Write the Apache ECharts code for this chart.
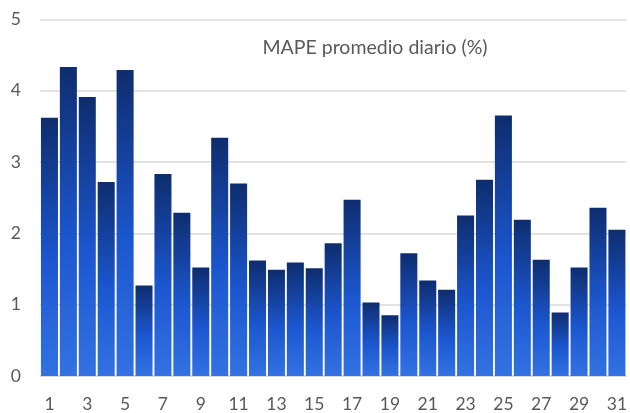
<!DOCTYPE html>
<html><head><meta charset="utf-8">
<script src="https://cdn.jsdelivr.net/npm/echarts@6/dist/echarts.min.js"></script>
<style>html,body{margin:0;padding:0;background:#fff}#c{width:630px;height:413px}</style>
</head><body><div id="c"></div>
<script>
const titleText = "MAPE promedio diario (%)";
const days = ["1","2","3","4","5","6","7","8","9","10","11","12","13","14","15","16","17","18","19","20","21","22","23","24","25","26","27","28","29","30","31"];
const mape = [3.62,4.33,3.91,2.72,4.29,1.27,2.83,2.29,1.52,3.34,2.70,1.62,1.49,1.59,1.51,1.86,2.47,1.03,0.85,1.72,1.34,1.21,2.25,2.75,3.65,2.19,1.63,0.89,1.52,2.36,2.05];
const yTicks = [0,1,2,3,4,5];

const chart = echarts.init(document.getElementById('c'), null, {renderer:'canvas'});
const font = 'Lato, "Open Sans", sans-serif';
chart.setOption({
  animation:false,
  title:{text:titleText,left:370,top:33,textAlign:'center',
    textStyle:{fontFamily:font,fontSize:19.5,fontWeight:'normal',color:'#595959'}},
  grid:{left:40,right:1,top:19.3,bottom:36.3,containLabel:false},
  xAxis:{type:'category',data:days,
    axisLine:{lineStyle:{color:'#d9d9d9',width:1.5}},
    axisTick:{show:false},
    axisLabel:{interval:1,color:'#595959',fontSize:17.5,fontFamily:font,margin:19}},
  yAxis:{type:'value',min:yTicks[0],max:yTicks[yTicks.length-1],interval:1,
    axisLine:{show:false},axisTick:{show:false},
    splitLine:{lineStyle:{color:'#d9d9d9',width:1.5}},
    axisLabel:{color:'#595959',fontSize:17.5,fontFamily:font,margin:19}},
  series:[{type:'bar',data:mape,barCategoryGap:'10%',
    itemStyle:{color:new echarts.graphic.LinearGradient(0,0,0,1,[
      {offset:0,color:'#0e2d6e'},{offset:0.55,color:'#1b56cf'},{offset:1,color:'#3272e2'}])}}]
});
</script></body></html>
